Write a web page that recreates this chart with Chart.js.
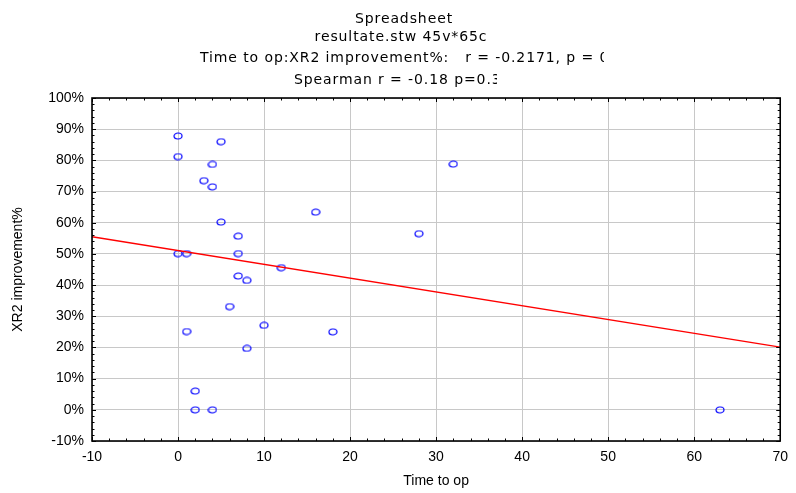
<!DOCTYPE html>
<html>
<head>
<meta charset="utf-8">
<script src="https://cdn.jsdelivr.net/npm/chart.js@4"></script>
<style>
  html, body { margin: 0; padding: 0; background: #fff; }
  #wrap { width: 796px; height: 493px; }
</style>
</head>
<body>
<div id="wrap"><canvas id="scatterChart" width="796" height="493"></canvas></div>
<script>
// values
const timeToOp = [0, 5, 0, 4, 3, 4, 16, 5, 7, 0, 1, 7, 12, 7, 8, 6, 1, 10, 18, 8, 2, 2, 4, 28, 32, 63];
const xr2Improvement = [87.8, 86.0, 81.2, 78.7, 73.5, 71.5, 63.4, 60.2, 55.7, 50.1, 50.1, 50.1, 45.6, 42.9, 41.5, 33.1, 25.1, 27.1, 25.0, 19.7, 6.0, 0, 0, 56.5, 78.8, 0];
const fitX = [-10, 70];
const fitY = [55.5, 20.1];
const xTicks = [-10, 0, 10, 20, 30, 40, 50, 60, 70];
const yTicks = [-10, 0, 10, 20, 30, 40, 50, 60, 70, 80, 90, 100];
const titleLines = [
    'Spreadsheet',
    'resultate.stw 45v*65c',
    'Time to op:XR2 improvement%:   r = -0.2171, p = 0',
    'Spearman r = -0.18 p=0.3'
];

const FONT = '"Liberation Sans", Arial, Helvetica, sans-serif';
const HEAD_FONT = '"DejaVu Sans", sans-serif';

document.addEventListener('DOMContentLoaded', () => {
    initScatterChart();
});

// small open ellipse used as point marker
function makeMarker() {
    const c = document.createElement('canvas');
    c.width = 10;
    c.height = 8;
    const g = c.getContext('2d');
    g.strokeStyle = '#0000ff';
    g.lineWidth = 1.2;
    g.beginPath();
    g.ellipse(5, 4, 4, 3, 0, 0, Math.PI * 2);
    g.stroke();
    return c;
}

// frame box + inner tick marks, drawn over the plot
const framePlugin = {
    id: 'frame',
    afterDatasetsDraw(chart) {
        const { ctx, chartArea: a, scales } = chart;
        const xs = scales.x, ys = scales.y;
        ctx.save();
        ctx.strokeStyle = '#000';
        ctx.lineWidth = 1;
        ctx.beginPath();
        for (let v = -10; v <= 70; v += 2) {
            const px = Math.round(xs.getPixelForValue(v)) + 0.5;
            const len = v % 10 === 0 ? 4 : 2.5;
            ctx.moveTo(px, a.bottom); ctx.lineTo(px, a.bottom - len);
            ctx.moveTo(px, a.top); ctx.lineTo(px, a.top + len);
        }
        for (let v = -10; v <= 100; v += 2) {
            const py = Math.round(ys.getPixelForValue(v)) + 0.5;
            const len = v % 10 === 0 ? 4 : 2.5;
            ctx.moveTo(a.left, py); ctx.lineTo(a.left + len, py);
            ctx.moveTo(a.right, py); ctx.lineTo(a.right - len, py);
        }
        ctx.stroke();
        ctx.lineWidth = 1.6;
        ctx.strokeRect(a.left, a.top, a.right - a.left, a.bottom - a.top);
        ctx.restore();
    }
};

// wide, partly clipped header lines like the original export
const headerPlugin = {
    id: 'header',
    afterDraw(chart) {
        const ctx = chart.ctx;
        const rows = [
            { y: 19, cx: 404 },
            { y: 37, cx: 401 },
            { y: 58, left: 200, clip: 604 },
            { y: 80, left: 294, clip: 497 }
        ];
        ctx.save();
        ctx.font = '14px ' + HEAD_FONT;
        ctx.letterSpacing = '0.9px';
        ctx.fillStyle = '#000';
        ctx.textAlign = 'left';
        ctx.textBaseline = 'middle';
        rows.forEach((r, i) => {
            const text = titleLines[i];
            const w = ctx.measureText(text).width;
            const x0 = r.left !== undefined ? r.left : r.cx - w / 2;
            ctx.save();
            if (r.clip) {
                ctx.beginPath();
                ctx.rect(0, r.y - 12, r.clip, 24);
                ctx.clip();
            }
            ctx.fillText(text, x0, r.y);
            ctx.restore();
        });
        ctx.restore();
    }
};

function initScatterChart() {
    const ctx = document.getElementById('scatterChart').getContext('2d');
    const marker = makeMarker();

    new Chart(ctx, {
        type: 'scatter',
        data: {
            datasets: [{
                label: 'XR2 improvement%',
                data: timeToOp.map((t, i) => ({ x: t, y: xr2Improvement[i] })),
                pointStyle: marker,
                pointRadius: 4,
                pointHoverRadius: 4,
                order: 2
            }, {
                type: 'line',
                label: 'fit',
                data: fitX.map((t, i) => ({ x: t, y: fitY[i] })),
                borderColor: '#ff0000',
                borderWidth: 1.3,
                pointRadius: 0,
                fill: false,
                order: 1
            }]
        },
        options: {
            responsive: false,
            animation: false,
            layout: { padding: { top: 98, right: 13, left: 0, bottom: 0 } },
            plugins: {
                legend: { display: false },
                tooltip: { enabled: false }
            },
            scales: {
                x: {
                    type: 'linear',
                    min: -10,
                    max: 70,
                    afterBuildTicks: s => { s.ticks = xTicks.map(v => ({ value: v })); },
                    afterFit: s => { s.height = 52; },
                    grid: { color: '#c8c8c8', lineWidth: 1, drawTicks: false },
                    border: { display: false },
                    ticks: {
                        color: '#000',
                        font: { family: FONT, size: 14 },
                        padding: 8,
                        maxRotation: 0
                    },
                    title: {
                        display: true,
                        text: 'Time to op',
                        color: '#000',
                        font: { family: FONT, size: 14 },
                        padding: { top: 0, bottom: 3 }
                    }
                },
                y: {
                    type: 'linear',
                    min: -10,
                    max: 100,
                    afterBuildTicks: s => { s.ticks = yTicks.map(v => ({ value: v })); },
                    afterFit: s => { s.width = 92; },
                    grid: { color: '#c8c8c8', lineWidth: 1, drawTicks: false },
                    border: { display: false },
                    ticks: {
                        color: '#000',
                        font: { family: FONT, size: 14 },
                        padding: 8,
                        callback: v => v + '%'
                    },
                    title: {
                        display: true,
                        text: 'XR2 improvement%',
                        color: '#000',
                        font: { family: FONT, size: 14 },
                        padding: { top: 10, bottom: 0 }
                    }
                }
            }
        },
        plugins: [framePlugin, headerPlugin]
    });
}
</script>
</body>
</html>
